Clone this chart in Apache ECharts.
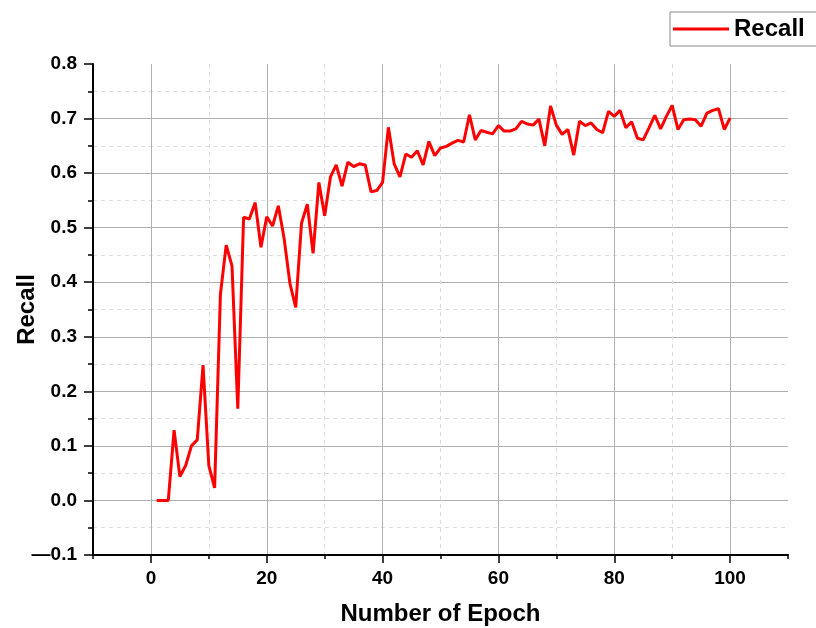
<!DOCTYPE html>
<html>
<head>
<meta charset="utf-8">
<script src="https://cdn.jsdelivr.net/npm/echarts@6/dist/echarts.min.js"></script>
<style>
  html, body { margin: 0; padding: 0; background: #fff; }
  #main { width: 816px; height: 628px; }
</style>
</head>
<body>
<div id="main"></div>
<script>
// recall per epoch (epochs 1..100)
var recall = [
  0.000, 0.000, 0.000, 0.129, 0.044, 0.064, 0.100, 0.111, 0.248, 0.064,
  0.023, 0.378, 0.468, 0.430, 0.168, 0.519, 0.516, 0.546, 0.464, 0.520,
  0.503, 0.540, 0.480, 0.398, 0.354, 0.508, 0.543, 0.453, 0.583, 0.522,
  0.593, 0.615, 0.576, 0.620, 0.612, 0.617, 0.615, 0.566, 0.568, 0.583,
  0.684, 0.617, 0.593, 0.635, 0.629, 0.641, 0.615, 0.658, 0.632, 0.646,
  0.649, 0.655, 0.660, 0.657, 0.707, 0.661, 0.678, 0.675, 0.672, 0.687,
  0.677, 0.677, 0.681, 0.695, 0.690, 0.688, 0.699, 0.650, 0.723, 0.688,
  0.671, 0.680, 0.633, 0.695, 0.687, 0.692, 0.680, 0.674, 0.713, 0.704,
  0.715, 0.683, 0.694, 0.664, 0.661, 0.683, 0.706, 0.681, 0.704, 0.724,
  0.680, 0.698, 0.699, 0.698, 0.686, 0.710, 0.715, 0.718, 0.680, 0.701
];
var epochs = [];
for (var i = 0; i < recall.length; i++) epochs.push(i + 1);

var xMajorTicks = [0, 20, 40, 60, 80, 100];
var xMinorTicks = [-10, 10, 30, 50, 70, 90, 110];

var seriesData = [];
for (var k = 0; k < recall.length; k++) {
  seriesData.push([epochs[k], recall[k]]);
}

var font = '"Liberation Sans", Arial, sans-serif';

var option = {
  animation: false,
  backgroundColor: '#fff',
  grid: { left: 93, top: 64, right: 28, bottom: 73, outerBoundsMode: 'none', containLabel: false },
  legend: {
    data: [{ name: 'Recall', icon: 'rect' }],
    left: 670,
    top: 12,
    padding: [5, 60, 5, 3],
    borderColor: '#888',
    borderWidth: 1,
    borderRadius: 0,
    itemWidth: 56,
    itemHeight: 3,
    textStyle: { fontFamily: font, fontWeight: 'bold', fontSize: 24, color: '#000', lineHeight: 24 }
  },
  xAxis: [
    {
      type: 'value',
      position: 'bottom',
      min: -10,
      max: 110,
      name: 'Number of Epoch',
      nameLocation: 'middle',
      nameGap: 47,
      nameMoveOverlap: false,
      nameTextStyle: { fontFamily: font, fontWeight: 'bold', fontSize: 24, color: '#000' },
      axisLine: { show: true, onZero: false, lineStyle: { color: '#000', width: 2 } },
      axisTick: { show: true, customValues: xMajorTicks, length: 8, lineStyle: { color: '#000', width: 1.5 } },
      axisLabel: {
        customValues: xMajorTicks,
        margin: 14,
        fontFamily: font, fontWeight: 'bold', fontSize: 19, color: '#000'
      },
      splitLine: { show: true, lineStyle: { color: '#b0b0b0', width: 1 } }
    },
    {
      type: 'value',
      position: 'bottom',
      min: -10,
      max: 110,
      axisLine: { show: false, onZero: false },
      axisTick: { show: true, customValues: xMinorTicks, length: 4, lineStyle: { color: '#000', width: 1.5 } },
      axisLabel: { show: false, customValues: xMinorTicks },
      splitLine: {
        show: true, showMinLine: false, showMaxLine: false,
        lineStyle: { color: '#dcdcdc', type: [4, 4], width: 1 }
      }
    }
  ],
  yAxis: {
    type: 'value',
    min: -0.1,
    max: 0.8,
    interval: 0.1,
    name: 'Recall',
    nameLocation: 'middle',
    nameGap: 54,
    nameMoveOverlap: false,
    nameTextStyle: { fontFamily: font, fontWeight: 'bold', fontSize: 24, color: '#000' },
    axisLine: { show: true, onZero: false, lineStyle: { color: '#000', width: 2 } },
    axisTick: { show: true, length: 9, lineStyle: { color: '#000', width: 1.5 } },
    minorTick: { show: true, splitNumber: 2, length: 5, lineStyle: { color: '#000', width: 1.5 } },
    axisLabel: {
      margin: 16,
      fontFamily: font, fontWeight: 'bold', fontSize: 19, color: '#000',
      formatter: function (v) {
        return v < 0 ? '\u2014' + Math.abs(v).toFixed(1) : v.toFixed(1);
      }
    },
    splitLine: { show: true, showMinLine: false, showMaxLine: false, lineStyle: { color: '#b0b0b0', width: 1 } },
    minorSplitLine: { show: true, lineStyle: { color: '#dcdcdc', type: [4, 4], width: 1 } }
  },
  series: [
    {
      name: 'Recall',
      type: 'line',
      xAxisIndex: 0,
      symbol: 'none',
      data: seriesData,
      lineStyle: { color: '#ff0000', width: 3 },
      itemStyle: { color: '#ff0000' }
    }
  ]
};

var myChart = echarts.init(document.getElementById('main'));
myChart.setOption(option);
</script>
</body>
</html>
